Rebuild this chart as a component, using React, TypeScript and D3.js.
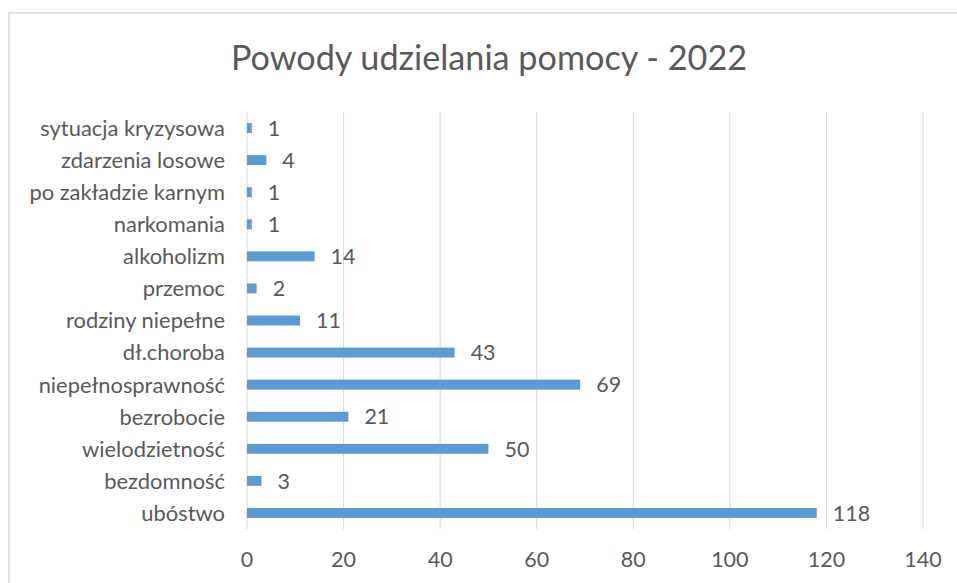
import React from "react";
import * as d3 from "d3";

const categories = [
  "sytuacja kryzysowa",
  "zdarzenia losowe",
  "po zakładzie karnym",
  "narkomania",
  "alkoholizm",
  "przemoc",
  "rodziny niepełne",
  "dł.choroba",
  "niepełnosprawność",
  "bezrobocie",
  "wielodzietność",
  "bezdomność",
  "ubóstwo",
];
const values = [1, 4, 1, 1, 14, 2, 11, 43, 69, 21, 50, 3, 118];
const ticks = [0, 20, 40, 60, 80, 100, 120, 140];
const title = "Powody udzielania pomocy - 2022";

const W = 957;
const H = 583;
const left = 247;
const right = 923;
const top = 112;
const bottom = 529;
const font = "Lato, 'Open Sans', sans-serif";
const textColor = "#595959";
const gridColor = "#d9d9d9";
const barColor = "#5B9BD5";

export default function App() {
  const x = d3.scaleLinear().domain([0, 140]).range([left, right]);
  const y = d3
    .scaleBand<string>()
    .domain(categories)
    .range([top, bottom])
    .paddingInner(0.69)
    .paddingOuter(0.345);

  return (
    <svg
      width={W}
      height={H}
      style={{ position: "absolute", left: 0, top: 0, background: "#fff" }}
    >
      <rect x={9} y={13} width={W + 20} height={H + 20} fill="#fff" stroke={gridColor} strokeWidth={1.5} />
      <text
        x={489}
        y={70}
        textAnchor="middle"
        fontFamily={font}
        fontSize={34.2}
        fill={textColor}
      >
        {title}
      </text>
      {ticks.map((t) => (
        <g key={t}>
          <line x1={x(t)} x2={x(t)} y1={top} y2={bottom} stroke={gridColor} strokeWidth={1} />
          <text
            x={x(t)}
            y={567}
            textAnchor="middle"
            fontFamily={font}
            fontSize={21.5}
            fill={textColor}
          >
            {t}
          </text>
        </g>
      ))}
      {categories.map((c, i) => {
        const yy = y(c)!;
        const cy = yy + y.bandwidth() / 2;
        return (
          <g key={c}>
            <rect x={x(0)} y={yy} width={x(values[i]) - x(0)} height={y.bandwidth()} fill={barColor} />
            <text
              x={225}
              y={cy}
              dy="0.36em"
              textAnchor="end"
              fontFamily={font}
              fontSize={21.9}
              fill={textColor}
            >
              {c}
            </text>
            <text
              x={x(values[i]) + 16}
              y={cy}
              dy="0.36em"
              fontFamily={font}
              fontSize={21.5}
              fill={textColor}
            >
              {values[i]}
            </text>
          </g>
        );
      })}
    </svg>
  );
}
